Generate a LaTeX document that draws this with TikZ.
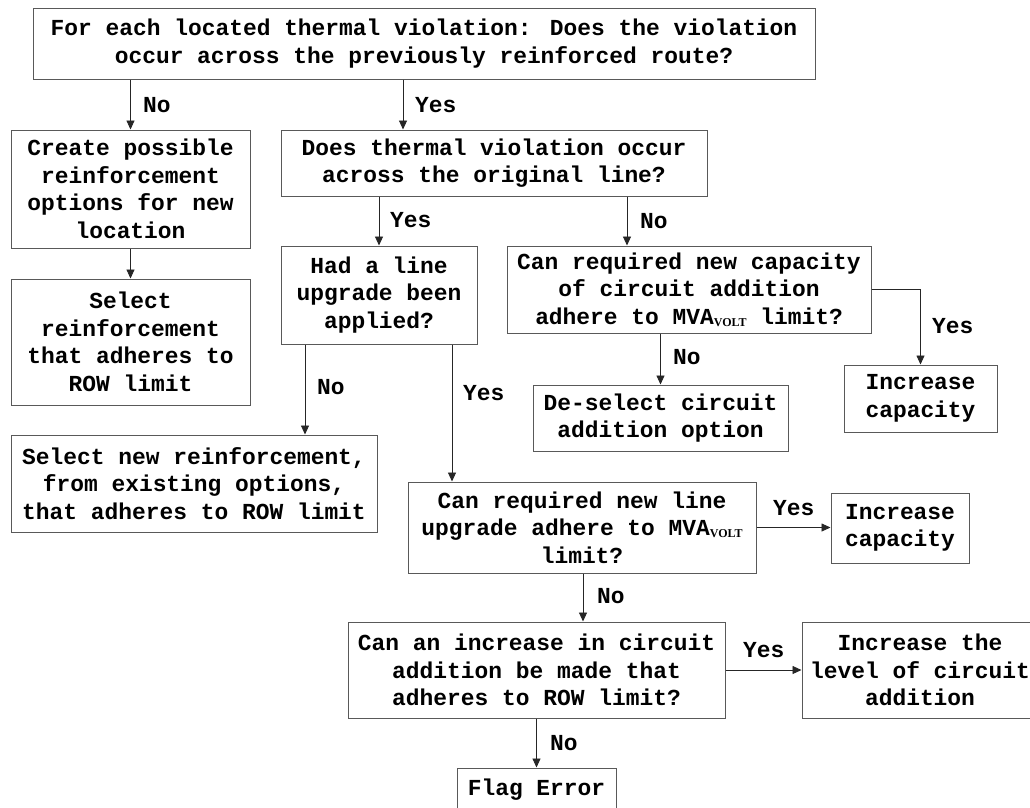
\documentclass[tikz,border=0pt]{standalone}
\usepackage{fontspec}
\setmainfont{Liberation Mono}
\newfontfamily\subfont{Liberation Serif}
\usetikzlibrary{arrows.meta}
\newcommand{\volt}{{\subfont\bfseries\fontsize{12}{12}\selectfont\raisebox{-1.5pt}{VOLT}}}
\begin{document}
\begin{tikzpicture}[x=1pt,y=-1pt,
  box/.style={draw=black!65, line width=1pt, align=center, inner sep=0pt,
    font=\fontsize{22.9}{27.6}\selectfont\bfseries},
  arr/.style={draw=black!85, line width=0.9pt, -{Triangle[length=9pt,width=8pt]}},
  lbl/.style={anchor=west, inner sep=0pt, font=\fontsize{22.9}{27.6}\selectfont\bfseries}]
\useasboundingbox (0,0) rectangle (1030,807);
\fill[white] (0,0) rectangle (1030,807);
\clip (0,0) rectangle (1030,807);

\node[box, minimum width=782pt, minimum height=71pt] (top) at (424,43.5)
  {For each located thermal violation: Does the violation\\occur across the previously reinforced route?};
\node[box, minimum width=239pt, minimum height=118pt] (create) at (130.5,189)
  {Create possible\\reinforcement\\options for new\\location};
\node[box, minimum width=239pt, minimum height=126pt] (select) at (130.5,342)
  {Select\\reinforcement\\that adheres to\\ROW limit};
\node[box, minimum width=426pt, minimum height=66pt] (thermal) at (494,163)
  {Does thermal violation occur\\across the original line?};
\node[box, minimum width=196pt, minimum height=98pt] (hadline) at (379,295)
  {Had a line\\upgrade been\\applied?};
\node[box, minimum width=364pt, minimum height=87pt] (capacity) at (689,289.5)
  {Can required new capacity\\of circuit addition\\adhere to MVA\volt{} limit?};
\node[box, minimum width=153pt, minimum height=67pt] (inc1) at (920.5,398.5)
  {Increase\\capacity};
\node[box, minimum width=255pt, minimum height=66pt] (deselect) at (660.5,418)
  {De-select circuit\\addition option};
\node[box, minimum width=366pt, minimum height=97pt] (selnew) at (194,483.5)
  {Select new reinforcement,\\from existing options,\\that adheres to ROW limit};
\node[box, minimum width=348pt, minimum height=91pt] (lineup) at (582,527.5)
  {Can required new line\\upgrade adhere to MVA\volt\\limit?};
\node[box, minimum width=138pt, minimum height=70pt] (inc2) at (900,528)
  {Increase\\capacity};
\node[box, minimum width=377pt, minimum height=96pt] (circ) at (536.5,670)
  {Can an increase in circuit\\addition be made that\\adheres to ROW limit?};
\node[box, minimum width=236pt, minimum height=96pt] (level) at (920,670)
  {Increase the\\level of circuit\\addition};
\node[box, minimum width=159pt, minimum height=44pt] (flag) at (536.5,790)
  {Flag Error};

\coordinate (xa) at (403,0);
\coordinate (xb) at (627,0);
\coordinate (xc) at (305,0);
\coordinate (xd) at (452,0);
\coordinate (xe) at (583,0);

\draw[arr] (top.south -| create.north) -- (create.north);
\draw[arr] (top.south -| xa) -- (thermal.north -| xa);
\draw[arr] (create.south) -- (select.north);
\draw[arr] (thermal.south -| hadline.north) -- (hadline.north);
\draw[arr] (thermal.south -| xb) -- (capacity.north -| xb);
\draw[arr] (capacity.east) -| (inc1.north);
\draw[arr] (capacity.south -| deselect.north) -- (deselect.north);
\draw[arr] (hadline.south -| xc) -- (selnew.north -| xc);
\draw[arr] (hadline.south -| xd) -- (lineup.north -| xd);
\draw[arr] (lineup.east) -- (inc2.west |- lineup.east);
\draw[arr] (lineup.south -| xe) -- (circ.north -| xe);
\draw[arr] (circ.east) -- (level.west);
\draw[arr] (circ.south -| flag.north) -- (flag.north);

\node[lbl] (l1) at (143,105) {No};
\node[lbl] (l2) at (415,105) {Yes};
\node[lbl] (l3) at (390,220) {Yes};
\node[lbl] (l4) at (640,221) {No};
\node[lbl] (l5) at (932,326) {Yes};
\node[lbl] (l6) at (673,357) {No};
\node[lbl] (l7) at (317,387) {No};
\node[lbl] (l8) at (463,393) {Yes};
\node[lbl] (l9) at (773,508) {Yes};
\node[lbl] (l10) at (597,596) {No};
\node[lbl] (l11) at (743,650) {Yes};
\node[lbl] (l12) at (550,743) {No};
\end{tikzpicture}
\end{document}
